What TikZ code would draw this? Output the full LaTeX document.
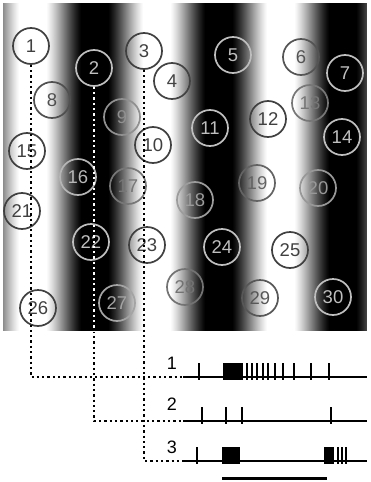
\documentclass[tikz,border=0pt]{standalone}
\usepackage{fontspec}
\setmainfont{Liberation Sans}
\tikzset{
  cell/.style={circle, draw, line width=1.7pt, minimum size=36pt, inner sep=0pt,
    font=\fontsize{18.5}{18.5}\selectfont},
  dots/.style={line width=2.3pt, dash pattern=on 2.3pt off 3pt},
  spike/.style={line width=1.5pt},
  burst/.style={line width=1.3pt},
  trainline/.style={line width=1.8pt},
  rowlabel/.style={font=\fontsize{18}{18}\selectfont, inner sep=0pt}
}
\begin{document}
\begin{tikzpicture}[x=1pt, y=-1pt]
  \useasboundingbox (0,0) rectangle (370,482);
  \def\period{124}
  \def\white{157}

  % Grating
  \foreach \x in {3,...,366} {
    \pgfmathsetmacro\lum{max(0,min(1,0.5+0.65*cos(360/\period*(\x+0.5-\white))))}
    \definecolor{stripe}{gray}{\lum}
    \fill[stripe] (\x,3) rectangle (\x+1.2,331);
  }
  \coordinate (gbot) at (0,331);

  % Cells
  \foreach \n/\x/\y in {
      1/31/46, 2/94/68, 3/144/51, 4/172/81, 5/233/55, 6/301/57, 7/345/73,
      8/52/100, 9/122/117, 10/153/145, 11/210/128, 12/268/119, 13/310/103, 14/342/137,
      15/27/151, 16/78/177, 17/128/186, 18/195/200, 19/257/183, 20/318/188,
      21/22/211, 22/91/242, 23/147/245, 24/222/247, 25/290/250,
      26/38/308, 27/117/303, 28/185/287, 29/260/298, 30/333/297} {
    \pgfmathsetmacro\lum{max(0,min(1,0.5+0.65*cos(360/\period*(\x-\white))))}
    \pgfmathsetmacro\ink{0.25+0.5*(1-\lum)}
    \definecolor{ink}{gray}{\ink}
    \node[cell, draw=ink, text=ink] (c\n) at (\x,\y) {\n};
  }

  % Spike trains
  \coordinate (t1) at (183,377);
  \coordinate (t2) at (183,421);
  \coordinate (t3) at (183,461);
  \node[rowlabel] (l1) at (172,363) {1};
  \node[rowlabel] (l2) at (172,404) {2};
  \node[rowlabel] (l3) at (172,447) {3};
  \foreach \t in {1,2,3}
    \draw[trainline] (t\t) -- ++(184,0);

  \foreach \s in {199,247,252,257,263,268,275,283,294,311,329}
    \draw[spike] (\s,363) -- (\s,380);
  \foreach \s in {224,226,...,242}
    \draw[burst] (\s,363) -- (\s,380);
  \foreach \s in {202,226,242,331}
    \draw[spike] (\s,407) -- (\s,424);
  \foreach \s in {197,338,342,346}
    \draw[spike] (\s,447) -- (\s,464);
  \foreach \s in {223,225,...,239,325,327,...,333}
    \draw[burst] (\s,447) -- (\s,464);

  % Dotted links
  \draw[dots] (c1.south) |- (t1);
  \draw[dots] (c2.south) |- (t2);
  \draw[dots, white] (c2.south) -- (c2.south |- gbot);
  \draw[dots] (c3.south) |- (t3);

  % Scale bar
  \draw[line width=3pt] (222,478) -- (327,478);
\end{tikzpicture}
\end{document}
